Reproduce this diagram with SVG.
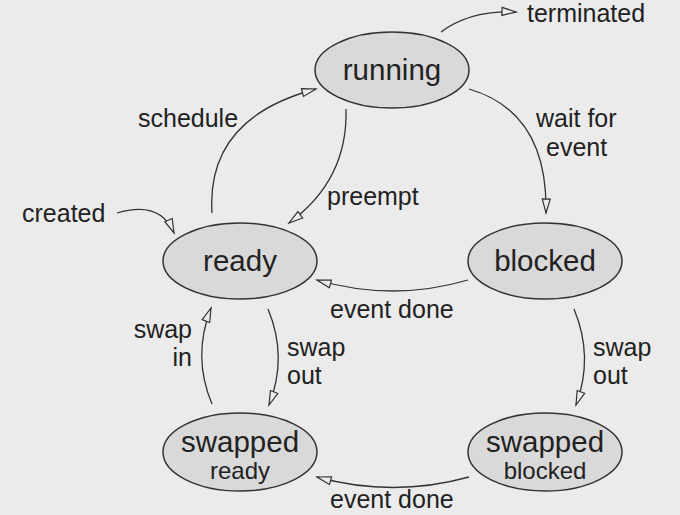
<svg xmlns="http://www.w3.org/2000/svg" width="680" height="515" viewBox="0 0 680 515">
<defs>
<marker id="arr" markerUnits="userSpaceOnUse" markerWidth="17" markerHeight="12" refX="15" refY="5" orient="auto">
<path d="M1,1 L15,5 L1,9 Z" fill="#ececec" stroke="#333" stroke-width="1.2"/>
</marker>
<style>
.n{fill:#d9d9d9;stroke:#333;stroke-width:1.5}
.t{font-family:"Liberation Sans",Arial,sans-serif;fill:#222}
.big{font-size:29.5px;text-anchor:middle}
.sm{font-size:24px;text-anchor:middle}
.lb{font-size:25px}
.e{fill:none;stroke:#333;stroke-width:1.3;marker-end:url(#arr)}
</style>
</defs>
<rect width="680" height="515" fill="#ebebeb"/>
<g id="connectors">
<path class="e" d="M441,32 Q470,10 516,12"/>
<path class="e" d="M469,89 Q548,112 546,213"/>
<path class="e" d="M346,109 Q348,180 289,223"/>
<path class="e" d="M212,213 Q206,118 316,89"/>
<path class="e" d="M117,213 Q160,200 174,233"/>
<path class="e" d="M468,280 Q393,302 317,280"/>
<path class="e" d="M268,309 Q288,357 269,405"/>
<path class="e" d="M212,404 Q192,357 211,308"/>
<path class="e" d="M574,309 Q594,357 576,405"/>
<path class="e" d="M469,477 Q393,498 317,477"/>
</g>
<g id="labels" class="t lb">
<text x="527" y="22">terminated</text>
<text x="536" y="127">wait for</text>
<text x="546" y="156">event</text>
<text x="138" y="127">schedule</text>
<text x="327" y="205">preempt</text>
<text x="22" y="222">created</text>
<text x="330" y="318">event done</text>
<text x="192" y="338" text-anchor="end">swap</text>
<text x="192" y="366" text-anchor="end">in</text>
<text x="287" y="356">swap</text>
<text x="287" y="384">out</text>
<text x="593" y="356">swap</text>
<text x="593" y="384">out</text>
<text x="330" y="508">event done</text>
</g>
<g id="running">
<ellipse class="n" cx="392" cy="70" rx="77" ry="38"/>
<text class="t big" x="392" y="80">running</text>
</g>
<g id="ready">
<ellipse class="n" cx="240" cy="261" rx="77" ry="38"/>
<text class="t big" x="240" y="271">ready</text>
</g>
<g id="blocked">
<ellipse class="n" cx="545" cy="261" rx="77" ry="38"/>
<text class="t big" x="545" y="271">blocked</text>
</g>
<g id="swapped-ready">
<ellipse class="n" cx="240" cy="452" rx="77" ry="39"/>
<text class="t big" x="240" y="452">swapped</text>
<text class="t sm" x="240" y="479">ready</text>
</g>
<g id="swapped-blocked">
<ellipse class="n" cx="545" cy="452" rx="77" ry="39"/>
<text class="t big" x="545" y="452">swapped</text>
<text class="t sm" x="545" y="479">blocked</text>
</g>
</svg>
